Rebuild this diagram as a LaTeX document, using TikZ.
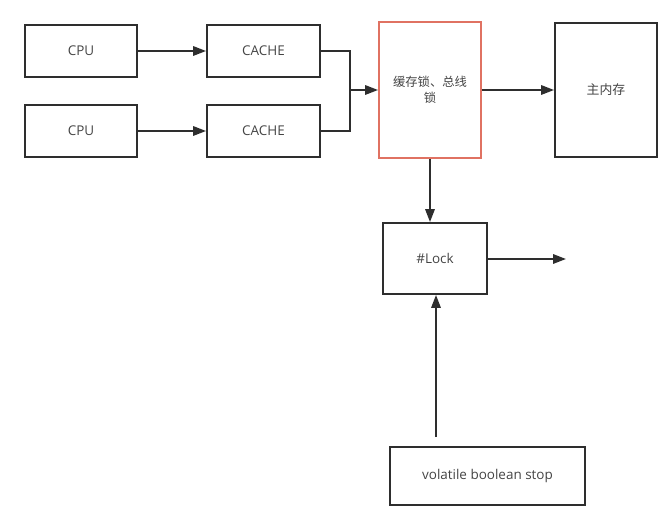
\documentclass[tikz,border=0pt]{standalone}
\usepackage{fontspec}
\setmainfont{Open Sans}
\newfontfamily\cjk{Noto Sans CJK SC}
\usetikzlibrary{arrows.meta}
\definecolor{edge}{HTML}{2E2E2E}
\definecolor{redline}{HTML}{E07262}
\definecolor{txt}{HTML}{444444}
\tikzset{
  blk/.style={draw=edge, line width=1.6pt, text=txt, align=center, inner sep=0pt, font=\fontsize{11.5}{14}\selectfont},
  arr/.style={draw=edge, line width=1.6pt, -{Triangle[length=11pt,width=8pt]}},
  ln/.style={draw=edge, line width=1.6pt}
}
\begin{document}
\begin{tikzpicture}[x=0.03cm, y=-0.03cm]
\useasboundingbox (0,0) rectangle (668,511);
\node[blk, minimum width=3.36cm, minimum height=1.56cm] (cpua) at (81,51) {CPU};
\node[blk, minimum width=3.36cm, minimum height=1.56cm] (cpub) at (81,131) {CPU};
\node[blk, minimum width=3.39cm, minimum height=1.56cm] (cachea) at (263.5,51) {CACHE};
\node[blk, minimum width=3.39cm, minimum height=1.56cm] (cacheb) at (263.5,131) {CACHE};
\node[blk, draw=redline, minimum width=3.06cm, minimum height=4.08cm] (buslock) at (430,90) {\cjk\fontsize{10.5}{13}\selectfont 缓存锁、总线\\\cjk\fontsize{10.5}{13}\selectfont 锁};
\node[blk, minimum width=3.06cm, minimum height=4.02cm] (mem) at (606,90) {\cjk\fontsize{11}{13}\selectfont 主内存};
\node[blk, minimum width=3.12cm, minimum height=2.13cm] (lockbox) at (435,258.5) {\#Lock};
\node[blk, minimum width=5.85cm, minimum height=1.74cm] (stop) at (487.5,476) {volatile boolean stop};
\coordinate (join) at (350,90);
\coordinate (out) at (566,259);
\coordinate (src) at (436,437);
\draw[arr] (cpua) -- (cachea);
\draw[arr] (cpub) -- (cacheb);
\draw[ln] (cachea.east) -| (join);
\draw[ln] (cacheb.east) -| (join);
\draw[arr] (join) -- (buslock.west);
\draw[arr] (buslock) -- (mem);
\draw[arr] (buslock.south) -- (buslock.south |- lockbox.north);
\draw[arr] (lockbox.east |- out) -- (out);
\draw[arr] (src) -- (src |- lockbox.south);
\end{tikzpicture}
\end{document}
